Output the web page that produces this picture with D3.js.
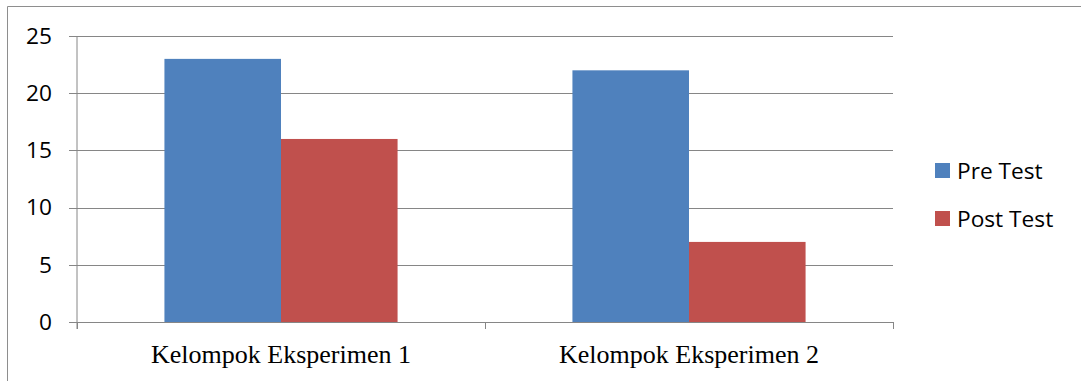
<!DOCTYPE html>
<html>
<head>
<meta charset="utf-8">
<script src="https://cdn.jsdelivr.net/npm/d3@7"></script>
<style>
  html, body { margin: 0; padding: 0; background: #fff; }
  svg { display: block; }
</style>
</head>
<body>
<svg id="chart" width="1081" height="381"></svg>
<script>
const categories = ["Kelompok Eksperimen 1", "Kelompok Eksperimen 2"];
const seriesNames = ["Pre Test", "Post Test"];
const preTest = [23, 22];
const postTest = [16, 7];
const yTicks = [0, 5, 10, 15, 20, 25];
const colors = ["#4F81BD", "#C0504D"];

const seriesValues = [preTest, postTest];
const data = categories.map((c, i) => ({
  cat: c,
  values: seriesNames.map((s, j) => ({ series: s, value: seriesValues[j][i] }))
}));

const svg = d3.select("#chart");
const plot = { left: 77, right: 893, top: 36, bottom: 322 };
const gridColor = "#868686";

// outer border
svg.append("path")
  .attr("d", "M7.5,381 L7.5,6.5 L1081,6.5")
  .attr("fill", "none").attr("stroke", "#8e8e8e").attr("stroke-width", 1);

const x0 = d3.scaleBand().domain(categories).range([plot.left, plot.right]).padding(0);
const x1 = d3.scaleBand().domain(seriesNames).range([0, x0.bandwidth()])
  .paddingInner(0).paddingOuter(0.75);
const y = d3.scaleLinear().domain([0, 25]).range([plot.bottom, plot.top]);

// gridlines
const grid = svg.append("g").attr("transform", `translate(${plot.left},0)`)
  .call(d3.axisLeft(y).tickValues(yTicks).tickSize(-(plot.right - plot.left)).tickFormat(""));
grid.select(".domain").remove();
grid.selectAll("line").attr("stroke", gridColor).attr("shape-rendering", "crispEdges");

// bars
const groups = svg.append("g").selectAll("g").data(data).join("g")
  .attr("transform", d => `translate(${x0(d.cat)},0)`);
groups.selectAll("rect").data(d => d.values).join("rect")
  .attr("x", d => x1(d.series))
  .attr("width", x1.bandwidth())
  .attr("y", d => y(d.value))
  .attr("height", d => y(0) - y(d.value))
  .attr("fill", (d, i) => colors[i]);

// y axis
const yAxis = svg.append("g").attr("transform", `translate(${plot.left},0)`)
  .call(d3.axisLeft(y).tickValues(yTicks).tickSize(8).tickPadding(17));
yAxis.select(".domain").attr("stroke", gridColor).attr("d", `M0,${plot.top}V${plot.bottom + 7}`);
yAxis.selectAll("line").attr("stroke", gridColor).attr("shape-rendering", "crispEdges");
yAxis.selectAll("text")
  .attr("font-family", "'Open Sans', sans-serif")
  .attr("font-size", "22.7px")
  .attr("fill", "#000");

// x axis
const xAxis = svg.append("g").attr("transform", `translate(0,${plot.bottom})`)
  .call(d3.axisBottom(x0).tickSize(0).tickPadding(24));
xAxis.select(".domain").attr("stroke", gridColor).attr("d", `M${plot.left - 8},0H${plot.right}`)
  .attr("shape-rendering", "crispEdges");
xAxis.selectAll("text")
  .attr("font-family", "'Liberation Serif', 'Times New Roman', serif")
  .attr("font-size", "26px")
  .attr("fill", "#000")
  .attr("dy", null)
  .attr("y", 41);
// tick marks between categories
const edges = [x0.range()[0], ...categories.slice(1).map(c => x0(c)), x0.range()[1]];
xAxis.selectAll("line.edge").data(edges).join("line").attr("class", "edge")
  .attr("x1", d => d).attr("x2", d => d).attr("y1", 0).attr("y2", 7)
  .attr("stroke", gridColor).attr("shape-rendering", "crispEdges");

// legend
const legend = svg.append("g").attr("transform", "translate(935,0)");
const legendY = [163, 211];
seriesNames.forEach((s, i) => {
  legend.append("rect").attr("x", 0).attr("y", legendY[i]).attr("width", 15).attr("height", 15)
    .attr("fill", colors[i]);
  legend.append("text").attr("x", 22).attr("y", legendY[i] + 16)
    .attr("font-family", "'Open Sans', sans-serif").attr("font-size", "22.7px")
    .attr("fill", "#000").text(s);
});
</script>
</body>
</html>
